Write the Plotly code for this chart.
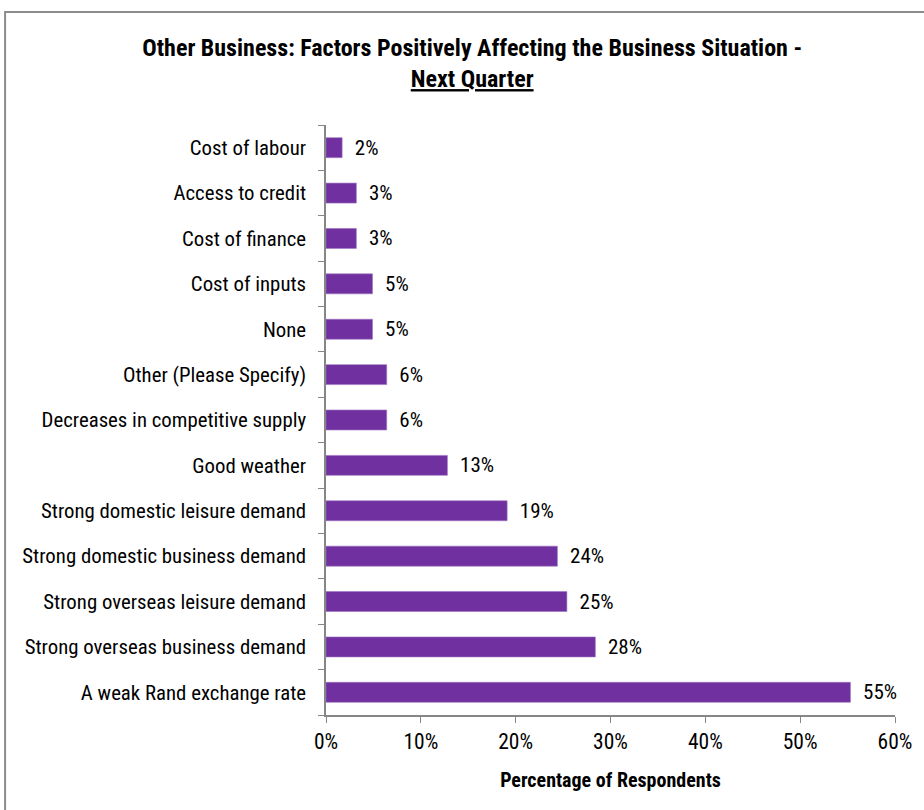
import plotly.graph_objects as go

categories = [
    "A weak Rand exchange rate",
    "Strong overseas business demand",
    "Strong overseas leisure demand",
    "Strong domestic business demand",
    "Strong domestic leisure demand",
    "Good weather",
    "Decreases in competitive supply",
    "Other (Please Specify)",
    "None",
    "Cost of inputs",
    "Cost of finance",
    "Access to credit",
    "Cost of labour",
]
values = [55.3, 28.4, 25.4, 24.4, 19.1, 12.8, 6.4, 6.4, 4.9, 4.9, 3.2, 3.2, 1.7]
value_labels = ["55%", "28%", "25%", "24%", "19%", "13%", "6%", "6%", "5%", "5%", "3%", "3%", "2%"]
x_tick_vals = [0, 10, 20, 30, 40, 50, 60]
x_tick_text = ["0%", "10%", "20%", "30%", "40%", "50%", "60%"]

FONT = "Liberation Sans Narrow, Arial Narrow, Roboto Condensed, sans-serif"

fig = go.Figure()
fig.add_trace(go.Bar(
    x=values,
    y=categories,
    orientation="h",
    marker=dict(color="#7030A0", line=dict(color="#9a72bf", width=0.6)),
    width=0.44,
    text=value_labels,
    texttemplate="  %{text}",
    textposition="outside",
    constraintext="none",
    textfont=dict(family=FONT, size=21, color="#000000"),
    cliponaxis=False,
    hoverinfo="skip",
))

fig.update_layout(
    width=924,
    height=810,
    margin=dict(l=326, r=29, t=125, b=95),
    paper_bgcolor="white",
    plot_bgcolor="white",
    showlegend=False,
    font=dict(family=FONT, size=20.8, color="#000000"),
    title=dict(
        text="<b>Other Business: Factors Positively Affecting the Business Situation -<br><u>Next Quarter</u></b>",
        x=0.511, xanchor="center", y=0.931, yanchor="top",
        font=dict(family=FONT, size=24, color="#000000"),
    ),
    xaxis=dict(
        range=[0, 60],
        tickvals=x_tick_vals,
        ticktext=x_tick_text,
        showgrid=False,
        zeroline=False,
        showline=True,
        linecolor="#868686",
        linewidth=1.5,
        ticks="outside",
        ticklen=6,
        tickcolor="#868686",
        tickfont=dict(family=FONT, size=21.5),
        title=dict(text="<b>Percentage of Respondents</b>", font=dict(family=FONT, size=20), standoff=20),
    ),
    yaxis=dict(
        categoryorder="array",
        categoryarray=categories,
        showgrid=False,
        zeroline=False,
        showline=True,
        linecolor="#868686",
        linewidth=1.5,
        ticks="outside",
        tickson="boundaries",
        ticklen=6,
        tickcolor="#868686",
        tickfont=dict(family=FONT, size=20.8),
        ticklabelstandoff=14,
    ),
    shapes=[dict(
        type="rect", xref="paper", yref="paper",
        x0=-0.564, x1=1.2, y0=-0.3, y1=1.1915,
        line=dict(color="#8c8c8c", width=2), fillcolor="rgba(0,0,0,0)", layer="below",
    )],
)

fig.write_html(
    "out.html",
    config={"displayModeBar": False},
    post_script="document.body.style.margin='0';document.body.style.padding='0';",
)
